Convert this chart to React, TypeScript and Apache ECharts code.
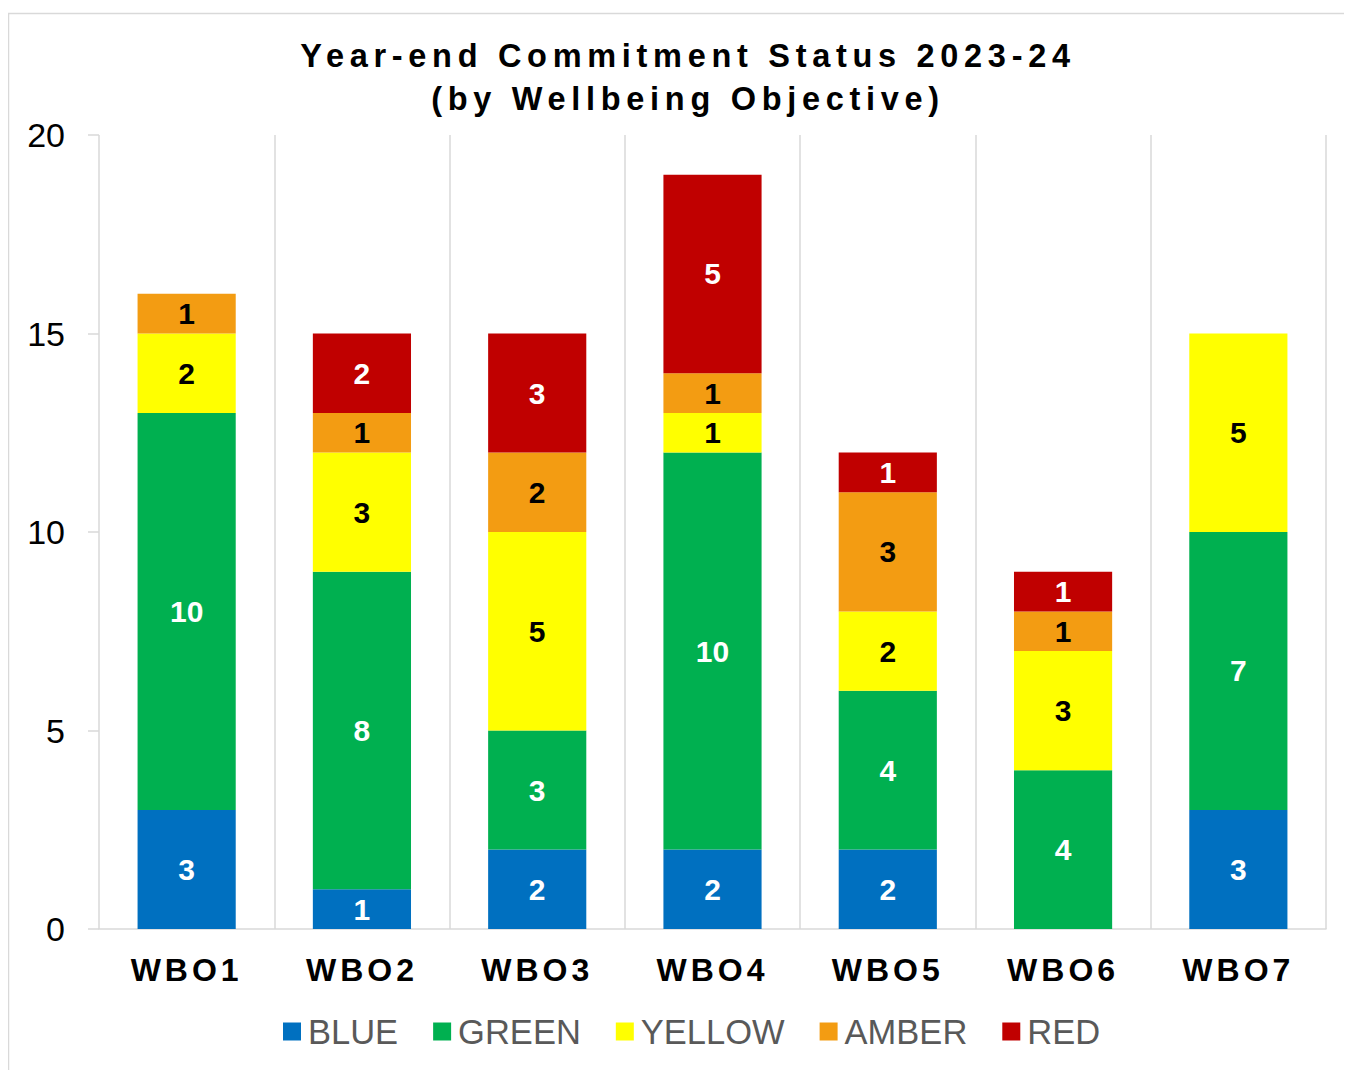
import React, { useEffect, useRef } from "react";
import * as echarts from "echarts";

const categories = ["WBO1", "WBO2", "WBO3", "WBO4", "WBO5", "WBO6", "WBO7"];
const blueValues = [3, 1, 2, 2, 2, null, 3];
const greenValues = [10, 8, 3, 10, 4, 4, 7];
const yellowValues = [2, 3, 5, 1, 2, 3, 5];
const amberValues = [1, 1, 2, 1, 3, 1, null];
const redValues = [null, 2, 3, 5, 1, 1, null];
const seriesNames = ["BLUE", "GREEN", "YELLOW", "AMBER", "RED"];
const seriesColors = ["#0070C0", "#00B050", "#FFFF00", "#F39C12", "#C00000"];
const labelColors = ["#FFFFFF", "#FFFFFF", "#000000", "#000000", "#FFFFFF"];
const titleLines = ["Year-end Commitment Status 2023-24", "(by Wellbeing Objective)"];
const yMin = 0;
const yMax = 20;
const yInterval = 5;

const FONT = "'Liberation Sans', Arial, sans-serif";

export default function App() {
  const ref = useRef<HTMLDivElement>(null);
  useEffect(() => {
    const el = ref.current;
    if (!el) return;
    const chart = echarts.init(el, null, { renderer: "svg" });
    const allValues = [blueValues, greenValues, yellowValues, amberValues, redValues];
    const applySpacing = () => {
      el.querySelectorAll("text").forEach((t) => {
        const c = (t.textContent || "").trim();
        if (titleLines.includes(c)) (t as SVGTextElement).style.letterSpacing = "5.7px";
        else if (categories.includes(c)) (t as SVGTextElement).style.letterSpacing = "4px";
      });
    };
    chart.on("finished", applySpacing);
    chart.setOption({
      animation: false,
      textStyle: { fontFamily: FONT },
      graphic: [
        {
          type: "rect",
          shape: { x: 0.5, y: 5.5, width: 1500, height: 1200 },
          style: { fill: "none", stroke: "#D9D9D9", lineWidth: 1.5 },
          silent: true,
          z: -10,
        },
        {
          type: "text",
          x: 680,
          y: 26,
          silent: true,
          style: {
            text: titleLines.join("\n"),
            align: "center",
            verticalAlign: "top",
            fontFamily: FONT,
            fontSize: 32.5,
            fontWeight: "bold",
            fill: "#000000",
            lineHeight: 43,
          },
        },
      ],
      legend: {
        data: seriesNames,
        left: 270,
        top: 1001,
        icon: "rect",
        itemWidth: 18,
        itemHeight: 18,
        itemGap: 35,
        textStyle: {
          fontFamily: FONT,
          fontSize: 34.5,
          color: "#595959",
          padding: [0, 0, 0, 2],
        },
      },
      grid: { left: 91, right: 26, top: 127, bottom: 141, containLabel: false },
      xAxis: {
        type: "category",
        data: categories,
        axisLine: { show: true, lineStyle: { color: "#D9D9D9", width: 1.5 } },
        axisTick: { show: false },
        splitLine: { show: true, lineStyle: { color: "#D9D9D9", width: 1.5 } },
        axisLabel: {
          fontFamily: FONT,
          fontSize: 32,
          fontWeight: "bold",
          color: "#000000",
          margin: 25,
        },
      },
      yAxis: {
        type: "value",
        min: yMin,
        max: yMax,
        interval: yInterval,
        axisLine: { show: false },
        axisTick: { show: true, length: 11, lineStyle: { color: "#D9D9D9", width: 1.5 } },
        splitLine: { show: false },
        axisLabel: { fontFamily: FONT, fontSize: 34, color: "#000000", margin: 34 },
      },
      series: seriesNames.map((name, i) => ({
        name,
        type: "bar",
        stack: "total",
        barWidth: "56%",
        data: allValues[i],
        itemStyle: { color: seriesColors[i] },
        label: {
          show: true,
          position: "inside",
          fontFamily: FONT,
          fontSize: 30,
          fontWeight: "bold",
          color: labelColors[i],
        },
      })),
    });
    applySpacing();
    return () => {
      chart.dispose();
    };
  }, []);
  return <div ref={ref} style={{ width: 1344, height: 1062 }} />;
}
